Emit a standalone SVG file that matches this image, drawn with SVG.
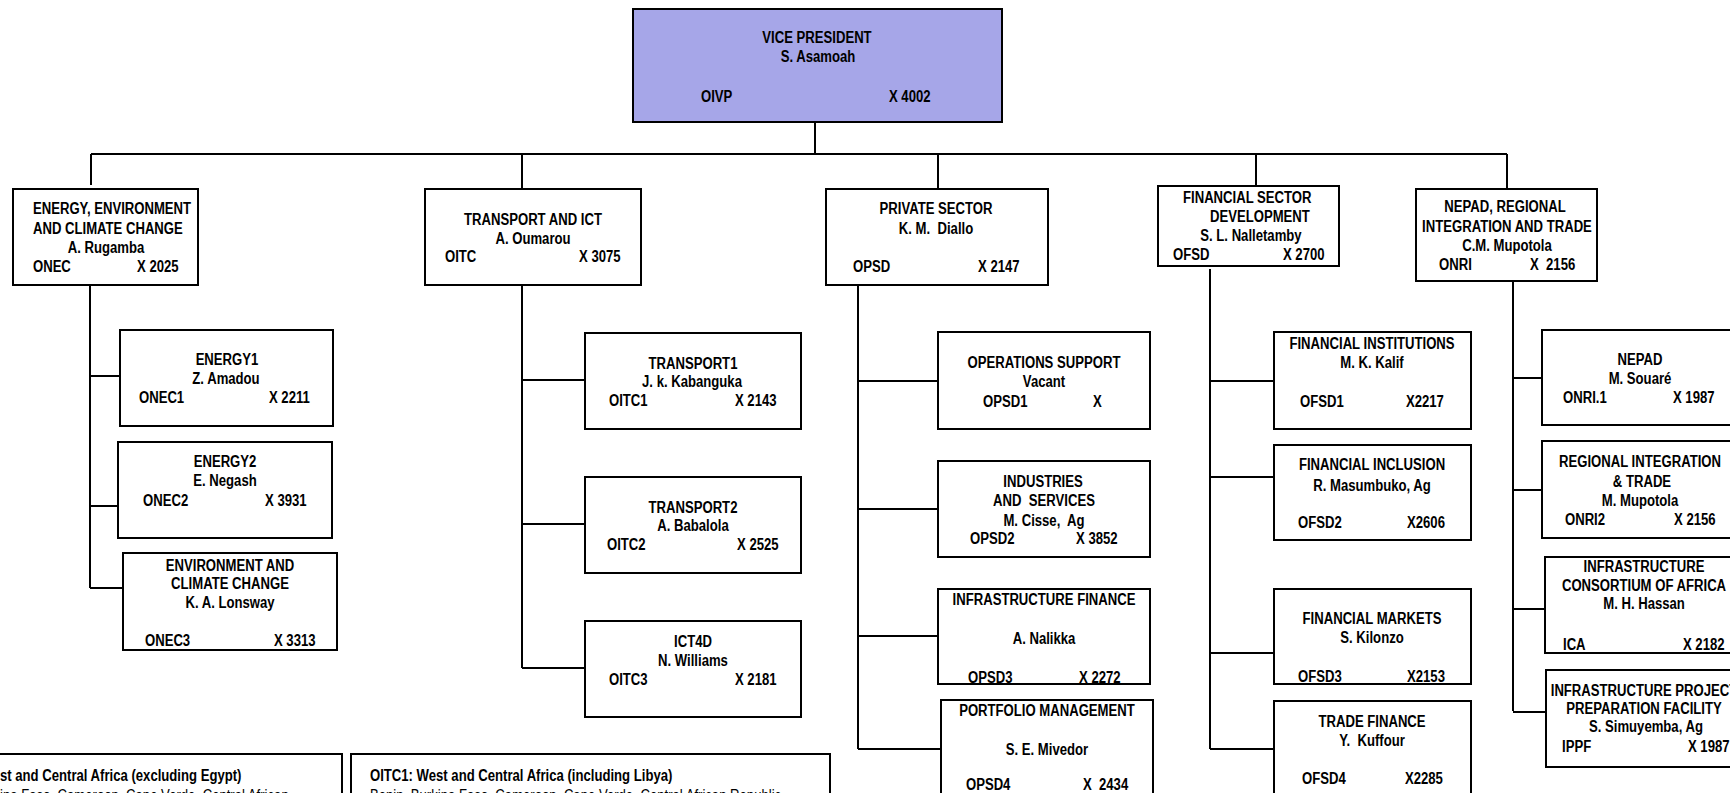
<svg xmlns="http://www.w3.org/2000/svg" width="1730" height="793" viewBox="0 0 1730 793">
<style>
.b{fill:#fff;stroke:#000;stroke-width:2}
.vp{fill:#A6A6E8;stroke:#000;stroke-width:2}
.c{fill:none;stroke:#000;stroke-width:2}
text{font-family:"Liberation Sans Narrow","Liberation Sans",Arial,sans-serif;font-weight:bold;font-size:16px;fill:#000;white-space:pre}
.m{text-anchor:middle}
.r{font-weight:normal}
</style>
<rect width="1730" height="793" fill="#fff"/>
<g id="connectors">
<path class="c" d="M815 122V154M91 154H1507M91 154V185M522 154V189M938 154V189M1256 154V186M1507 154V189"/>
<path class="c" d="M90 285V588M90 376H120M90 506H118M90 588H123"/>
<path class="c" d="M522 285V668M522 380H585M522 524H585M522 668H585"/>
<path class="c" d="M858 285V749M858 381H938M858 509H938M858 636H938M858 749H941"/>
<path class="c" d="M1210 269V749M1210 381H1274M1210 477H1274M1210 653H1274M1210 749H1274"/>
<path class="c" d="M1513 281V711M1513 378H1542M1513 490H1542M1513 609H1545M1513 712H1546"/>
</g>
<g id="vp"><rect class="vp" x="633" y="9" width="369" height="113"/>
<g transform="scale(0.82,1)"><text class="m" x="996.3" y="43">VICE PRESIDENT</text><text class="m" x="997.6" y="62">S. Asamoah</text>
<text x="854.9" y="102">OIVP</text><text x="1084.1" y="102">X 4002</text></g></g>

<g id="onec"><rect class="b" x="13" y="189" width="185" height="96"/>
<g transform="scale(0.82,1)"><text x="40.2" y="214">ENERGY, ENVIRONMENT</text><text x="40.2" y="234">AND CLIMATE CHANGE</text>
<text class="m" x="129.3" y="253">A. Rugamba</text><text x="40.2" y="272">ONEC</text><text x="167.1" y="272">X 2025</text></g></g>
<g id="onec1"><rect class="b" x="120" y="330" width="213" height="96"/>
<g transform="scale(0.82,1)"><text class="m" x="276.8" y="365">ENERGY1</text><text class="m" x="275.6" y="384">Z. Amadou</text>
<text x="169.5" y="403">ONEC1</text><text x="328" y="403">X 2211</text></g></g>
<g id="onec2"><rect class="b" x="118" y="442" width="214" height="96"/>
<g transform="scale(0.82,1)"><text class="m" x="274.4" y="467">ENERGY2</text><text class="m" x="274.4" y="486">E. Negash</text>
<text x="174.4" y="506">ONEC2</text><text x="323.2" y="506">X 3931</text></g></g>
<g id="onec3"><rect class="b" x="123" y="553" width="214" height="97"/>
<g transform="scale(0.82,1)"><text class="m" x="280.5" y="571">ENVIRONMENT AND</text><text class="m" x="280.5" y="589">CLIMATE CHANGE</text>
<text class="m" x="280.5" y="608">K. A. Lonsway</text><text x="176.8" y="646">ONEC3</text><text x="334.1" y="646">X 3313</text></g></g>

<g id="oitc"><rect class="b" x="425" y="189" width="216" height="96"/>
<g transform="scale(0.82,1)"><text class="m" x="650" y="225">TRANSPORT AND ICT</text><text class="m" x="650" y="244">A. Oumarou</text>
<text x="542.7" y="262">OITC</text><text x="706.1" y="262">X 3075</text></g></g>
<g id="oitc1"><rect class="b" x="585" y="333" width="216" height="96"/>
<g transform="scale(0.82,1)"><text class="m" x="845.1" y="369">TRANSPORT1</text><text class="m" x="843.9" y="387">J. k. Kabanguka</text>
<text x="742.7" y="406">OITC1</text><text x="896.3" y="406">X 2143</text></g></g>
<g id="oitc2"><rect class="b" x="585" y="477" width="216" height="96"/>
<g transform="scale(0.82,1)"><text class="m" x="845.1" y="513">TRANSPORT2</text><text class="m" x="845.1" y="531">A. Babalola</text>
<text x="740.2" y="550">OITC2</text><text x="898.8" y="550">X 2525</text></g></g>
<g id="oitc3"><rect class="b" x="585" y="621" width="216" height="96"/>
<g transform="scale(0.82,1)"><text class="m" x="845.1" y="647">ICT4D</text><text class="m" x="845.1" y="666">N. Williams</text>
<text x="742.7" y="685">OITC3</text><text x="896.3" y="685">X 2181</text></g></g>

<g id="opsd"><rect class="b" x="826" y="189" width="222" height="96"/>
<g transform="scale(0.82,1)"><text class="m" x="1141.5" y="214">PRIVATE SECTOR</text><text class="m" x="1141.5" y="234">K. M.  Diallo</text>
<text x="1040.2" y="272">OPSD</text><text x="1192.7" y="272">X 2147</text></g></g>
<g id="opsd1"><rect class="b" x="938" y="332" width="212" height="97"/>
<g transform="scale(0.82,1)"><text class="m" x="1273.2" y="368">OPERATIONS SUPPORT</text><text class="m" x="1273.2" y="387">Vacant</text>
<text x="1198.8" y="407">OPSD1</text><text x="1332.9" y="407">X</text></g></g>
<g id="opsd2"><rect class="b" x="938" y="461" width="212" height="96"/>
<g transform="scale(0.82,1)"><text class="m" x="1272" y="487">INDUSTRIES</text><text class="m" x="1273.2" y="506">AND  SERVICES</text>
<text class="m" x="1273.2" y="526">M. Cisse,  Ag</text><text x="1182.9" y="544">OPSD2</text><text x="1312.2" y="544">X 3852</text></g></g>
<g id="opsd3"><rect class="b" x="938" y="589" width="212" height="95"/>
<g transform="scale(0.82,1)"><text class="m" x="1273.2" y="605">INFRASTRUCTURE FINANCE</text><text class="m" x="1273.2" y="644">A. Nalikka</text>
<text x="1180.5" y="683">OPSD3</text><text x="1315.9" y="683">X 2272</text></g></g>
<g id="opsd4"><rect class="b" x="941" y="700" width="212" height="110"/>
<g transform="scale(0.82,1)"><text class="m" x="1276.8" y="716">PORTFOLIO MANAGEMENT</text><text class="m" x="1276.8" y="755">S. E. Mivedor</text>
<text x="1178" y="790">OPSD4</text><text x="1320.7" y="790">X  2434</text></g></g>

<g id="ofsd"><rect class="b" x="1158" y="186" width="181" height="80"/>
<g transform="scale(0.82,1)"><text x="1442.7" y="203">FINANCIAL SECTOR</text><text x="1475.6" y="222">DEVELOPMENT</text>
<text class="m" x="1525.6" y="241">S. L. Nalletamby</text><text x="1430.5" y="260">OFSD</text><text x="1564.6" y="260">X 2700</text></g></g>
<g id="ofsd1"><rect class="b" x="1274" y="332" width="197" height="97"/>
<g transform="scale(0.82,1)"><text class="m" x="1673.2" y="349">FINANCIAL INSTITUTIONS</text><text class="m" x="1673.2" y="368">M. K. Kalif</text>
<text x="1585.4" y="407">OFSD1</text><text x="1714.6" y="407">X2217</text></g></g>
<g id="ofsd2"><rect class="b" x="1274" y="445" width="197" height="95"/>
<g transform="scale(0.82,1)"><text class="m" x="1673.2" y="470">FINANCIAL INCLUSION</text><text class="m" x="1673.2" y="491">R. Masumbuko, Ag</text>
<text x="1582.9" y="528">OFSD2</text><text x="1715.9" y="528">X2606</text></g></g>
<g id="ofsd3"><rect class="b" x="1274" y="589" width="197" height="95"/>
<g transform="scale(0.82,1)"><text class="m" x="1673.2" y="624">FINANCIAL MARKETS</text><text class="m" x="1673.2" y="643">S. Kilonzo</text>
<text x="1582.9" y="682">OFSD3</text><text x="1715.9" y="682">X2153</text></g></g>
<g id="ofsd4"><rect class="b" x="1274" y="701" width="197" height="110"/>
<g transform="scale(0.82,1)"><text class="m" x="1673.2" y="727">TRADE FINANCE</text><text class="m" x="1673.2" y="746">Y.  Kuffour</text>
<text x="1587.8" y="784">OFSD4</text><text x="1713.4" y="784">X2285</text></g></g>

<g id="onri"><rect class="b" x="1416" y="189" width="181" height="92"/>
<g transform="scale(0.82,1)"><text class="m" x="1835.4" y="212">NEPAD, REGIONAL</text><text class="m" x="1837.8" y="232">INTEGRATION AND TRADE</text>
<text class="m" x="1837.8" y="251">C.M. Mupotola</text><text x="1754.9" y="270">ONRI</text><text x="1865.9" y="270">X  2156</text></g></g>
<g id="onri1"><rect class="b" x="1542" y="330" width="200" height="95"/>
<g transform="scale(0.82,1)"><text class="m" x="2000" y="365">NEPAD</text><text class="m" x="2000" y="384">M. Souaré</text>
<text x="1906.1" y="403">ONRI.1</text><text x="2040.2" y="403">X 1987</text></g></g>
<g id="onri2"><rect class="b" x="1542" y="441" width="200" height="97"/>
<g transform="scale(0.82,1)"><text class="m" x="2000" y="467">REGIONAL INTEGRATION</text><text class="m" x="2002.4" y="487">&amp; TRADE</text>
<text class="m" x="2000" y="506">M. Mupotola</text><text x="1908.5" y="525">ONRI2</text><text x="2041.5" y="525">X 2156</text></g></g>
<g id="ica"><rect class="b" x="1545" y="557" width="200" height="96"/>
<g transform="scale(0.82,1)"><text class="m" x="2004.9" y="572">INFRASTRUCTURE</text><text class="m" x="2004.9" y="591">CONSORTIUM OF AFRICA</text>
<text class="m" x="2004.9" y="609">M. H. Hassan</text><text x="1906.1" y="650">ICA</text><text x="2052.4" y="650">X 2182</text></g></g>
<g id="ippf"><rect class="b" x="1546" y="670" width="200" height="97"/>
<g transform="scale(0.82,1)"><text class="m" x="2004.9" y="696">INFRASTRUCTURE PROJECT</text><text class="m" x="2004.9" y="714">PREPARATION FACILITY</text>
<text class="m" x="2007.3" y="732">S. Simuyemba, Ag</text><text x="1904.9" y="752">IPPF</text><text x="2058.5" y="752">X 1987</text></g></g>

<g id="note-left"><rect class="b" x="-10" y="754" width="352" height="60"/>
<g transform="scale(0.82,1)"><text x="0" y="781">st and Central Africa (excluding Egypt)</text>
<text class="r" x="0" y="801">ina Faso, Cameroon, Cape Verde, Central African</text></g></g>
<g id="note-oitc1"><rect class="b" x="351" y="754" width="479" height="60"/>
<g transform="scale(0.82,1)"><text x="451.2" y="781">OITC1: West and Central Africa (including Libya)</text>
<text class="r" x="451.2" y="801">Benin, Burkina Faso, Cameroon, Cape Verde, Central African Republic</text></g></g>
</svg>
